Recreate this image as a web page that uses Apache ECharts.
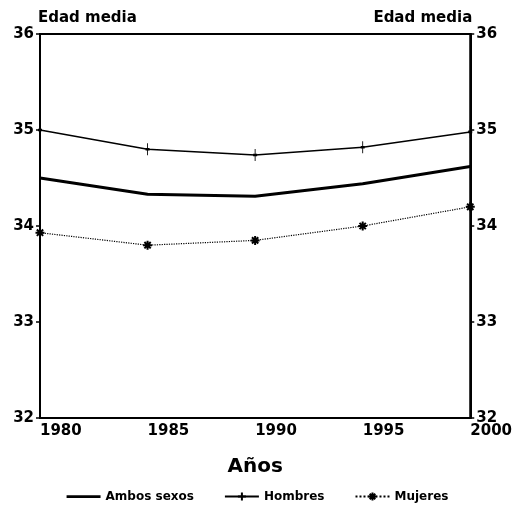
<!DOCTYPE html>
<html lang="es">
<head>
<meta charset="utf-8">
<title>Edad media</title>
<script src="https://cdn.jsdelivr.net/npm/echarts@6/dist/echarts.min.js"></script>
<style>
  html, body { margin: 0; padding: 0; background: #fff; }
  #container { width: 515px; height: 522px; }
</style>
</head>
<body>
<div id="container"></div>
<script>
// datos
var years   = [1980, 1985, 1990, 1995, 2000];
var ambos   = [34.50, 34.33, 34.31, 34.44, 34.62];
var hombres = [35.00, 34.80, 34.74, 34.82, 34.98];
var mujeres = [33.93, 33.80, 33.85, 34.00, 34.20];
var yTicks  = [32, 33, 34, 35, 36];

var font = 'DejaVu Sans';
var plus = 'path://M5,0L5,10M0,5L10,5';
var star = 'path://M5,0L5,10M0,5L10,5M1.5,1.5L8.5,8.5M8.5,1.5L1.5,8.5';
// linea gruesa para la leyenda (los puntos extremos fijan la caja de 34x10)
var thickLine = 'path://M0,0L0,0.01M0,3.8L34,3.8L34,6.4L0,6.4ZM0,10L0,10.01';

function pairs(vals){
   var out = [];
   for(var i=0;i<years.length;i++){
      out.push([years[i], vals[i]]);
   }
   return out;
}

var yAxisBase = function(pos){
   return {
      type: 'value',
      position: pos,
      min: yTicks[0],
      max: yTicks[yTicks.length-1],
      interval: 1,
      name: 'Edad media',
      nameLocation: 'end',
      nameGap: 8,
      nameTextStyle: {
         fontFamily: font, fontWeight: 'bold', fontSize: 15, color: '#000',
         align: pos == 'left' ? 'left' : 'right',
         padding: pos == 'left' ? [0,0,0,-2] : [0,-2,0,0]
      },
      axisLine: { show: true, lineStyle: { color: '#000', width: 2 } },
      axisTick: { show: true, length: 4, lineStyle: { color: '#000', width: 1.5 } },
      splitLine: { show: false },
      axisLabel: {
         fontFamily: font, fontWeight: 'bold', fontSize: 15, color: '#000', margin: 6
      }
   };
};

var myChart = echarts.init(document.getElementById('container'));
var option = {
   animation: false,
   backgroundColor: '#fff',
   grid: {
      left: 40, right: 43, top: 34, bottom: 104,
      show: true, borderColor: '#000', borderWidth: 2, backgroundColor: 'transparent'
   },
   xAxis: {
      type: 'value',
      min: 1980, max: 2000, interval: 5,
      name: 'Años',
      nameLocation: 'middle',
      nameGap: 39,
      nameTextStyle: { fontFamily: font, fontSize: 20, color: '#000', fontWeight: 'bold' },
      axisLine: { show: true, lineStyle: { color: '#000', width: 2 } },
      axisTick: { show: false },
      splitLine: { show: false },
      axisLabel: {
         fontFamily: font, fontWeight: 'bold', fontSize: 15, color: '#000',
         align: 'left', margin: 6,
         formatter: function(v){ return String(v); }
      }
   },
   yAxis: [ yAxisBase('left'), yAxisBase('right') ],
   legend: {
      bottom: 14,
      left: 'center',
      itemWidth: 34,
      itemHeight: 10,
      itemGap: 30,
      textStyle: { fontFamily: font, fontWeight: 'bold', fontSize: 12, color: '#000' },
      data: [
         { name: 'Ambos sexos', icon: thickLine },
         'Hombres',
         'Mujeres'
      ]
   },
   series: [
      {
         name: 'Ambos sexos',
         type: 'line',
         data: pairs(ambos),
         symbol: 'none',
         lineStyle: { color: '#000', width: 3 },
         itemStyle: { color: '#000' }
      },
      {
         name: 'Hombres',
         type: 'line',
         data: pairs(hombres),
         symbol: plus,
         symbolSize: [4, 12],
         showSymbol: true,
         lineStyle: { color: '#000', width: 1.5 },
         itemStyle: { color: 'none', borderColor: '#000', borderWidth: 1.5 }
      },
      {
         name: 'Mujeres',
         type: 'line',
         data: pairs(mujeres),
         symbol: star,
         symbolSize: 9,
         lineStyle: { color: '#000', width: 1.2, type: 'dotted' },
         itemStyle: { color: 'none', borderColor: '#000', borderWidth: 2 }
      }
   ]
};
myChart.setOption(option);
</script>
</body>
</html>
